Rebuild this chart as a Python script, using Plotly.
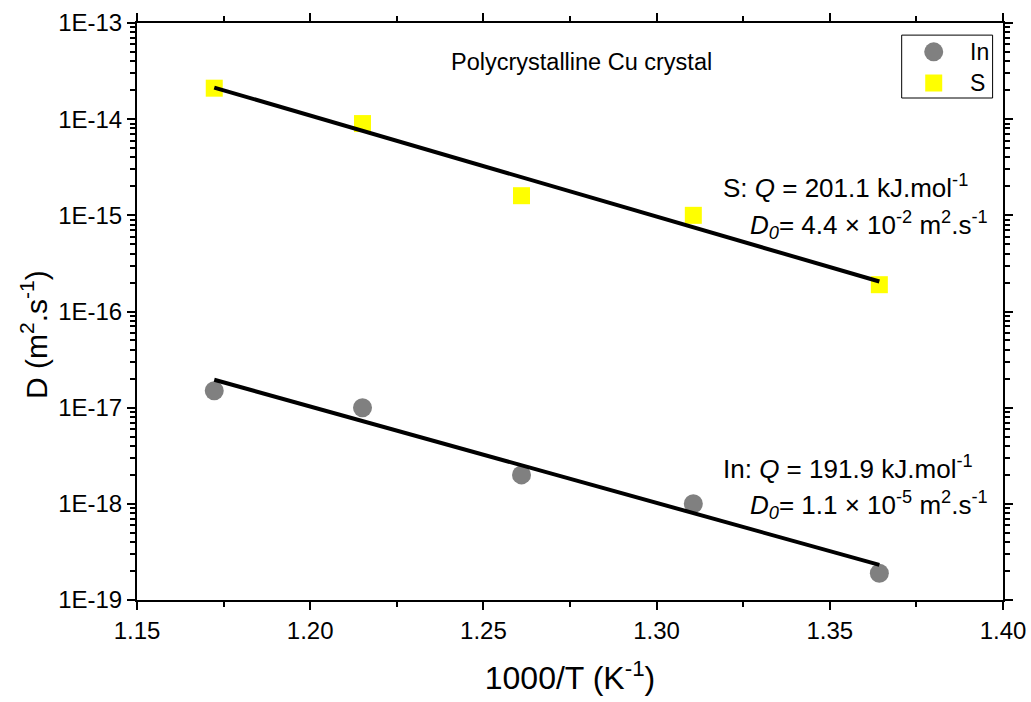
import numpy as np
import plotly.graph_objects as go

# Diffusion in polycrystalline Cu: inverse temperature (1000/T, K^-1)
inv_T = [1.1723, 1.2151, 1.2610, 1.3106, 1.3643]

# Measured diffusion coefficients (m^2/s)
D_In = [1.5e-17, 1.0e-17, 2.0e-18, 1.0e-18, 1.9e-19]
D_S = [2.1e-14, 9.0e-15, 1.6e-15, 1.0e-15, 1.9e-16]

# Arrhenius fit parameters: Q in kJ/mol, D0 in m^2/s
Q_In, D0_In = 191.9, 1.1e-5
Q_S, D0_S = 201.1, 4.4e-2
R = 8.314

y_ticks = [1e-19, 1e-18, 1e-17, 1e-16, 1e-15, 1e-14, 1e-13]
y_ticktext = ["1E-19", "1E-18", "1E-17", "1E-16", "1E-15", "1E-14", "1E-13"]

series_names = ["In", "S"]
series_colors = ["#808080", "#FFFF00"]
series_symbols = ["circle", "square"]
series_sizes = [19, 17]


def arrhenius(x, Q, D0):
    x = np.asarray(x)
    return D0 * np.exp(-Q * x / R)


fit_x = [inv_T[0], inv_T[-1]]
font = "Liberation Sans, Arial, sans-serif"

fig = go.Figure()
for name, ys, col, sym, sz in zip(series_names, [D_In, D_S], series_colors,
                                  series_symbols, series_sizes):
    fig.add_trace(go.Scatter(
        x=inv_T, y=ys, mode="markers", name=name, showlegend=False,
        marker=dict(symbol=sym, size=sz, color=col, line=dict(width=0)),
    ))

# Fitted Arrhenius lines, drawn over the markers
for Q, D0 in [(Q_S, D0_S), (Q_In, D0_In)]:
    fig.add_trace(go.Scatter(
        x=fit_x, y=arrhenius(fit_x, Q, D0), mode="lines", showlegend=False,
        line=dict(color="black", width=4),
    ))

# Legend box drawn on an overlay axis spanning the whole plot area
legend_x_sym = 0.920
legend_x_text = 0.960
legend_y = [0.950, 0.896]
for name, col, sym, sz, ly in zip(series_names, series_colors, series_symbols,
                                  series_sizes, legend_y):
    fig.add_trace(go.Scatter(
        x=[legend_x_sym], y=[ly], xaxis="x2", yaxis="y2", mode="markers",
        showlegend=False, hoverinfo="skip",
        marker=dict(symbol=sym, size=sz, color=col, line=dict(width=0)),
    ))
    fig.add_annotation(
        text=name, x=legend_x_text, y=ly, xref="paper", yref="paper",
        xanchor="left", yanchor="middle", showarrow=False,
        font=dict(family=font, size=23, color="black"),
    )
fig.add_shape(type="rect", xref="paper", yref="paper",
              x0=0.883, x1=0.988, y0=0.870, y1=0.979,
              line=dict(color="black", width=1), fillcolor="rgba(0,0,0,0)")

minor_y = [m * 10.0 ** e for e in range(-19, -13) for m in range(2, 10)]

fig.update_layout(
    width=1031, height=702,
    margin=dict(l=137, r=28, t=23, b=102, autoexpand=False),
    paper_bgcolor="white", plot_bgcolor="white",
    font=dict(family=font, size=23, color="black"),
    showlegend=False,
    xaxis=dict(
        range=[1.15, 1.40], dtick=0.05, tick0=1.15, tickformat=".2f",
        showgrid=False, zeroline=False, automargin=False,
        showline=True, linecolor="black", linewidth=2, mirror="ticks",
        ticks="outside", ticklen=8, tickwidth=2, tickcolor="black",
        minor=dict(dtick=0.025, tick0=1.15, ticks="outside", ticklen=5,
                   tickwidth=2, tickcolor="black"),
        tickfont=dict(size=24),
        title=dict(text="1000/T (K<sup>-1</sup>)", font=dict(size=32), standoff=24),
    ),
    yaxis=dict(
        type="log", range=[-19, -13], automargin=False,
        tickmode="array", tickvals=y_ticks, ticktext=y_ticktext,
        showgrid=False, zeroline=False,
        showline=True, linecolor="black", linewidth=2, mirror="ticks",
        ticks="outside", ticklen=8, tickwidth=2, tickcolor="black",
        minor=dict(tickmode="array", tickvals=minor_y, ticks="outside",
                   ticklen=5, tickwidth=2, tickcolor="black"),
        tickfont=dict(size=24),
    ),
    xaxis2=dict(domain=[0, 1], range=[0, 1], overlaying="x", visible=False,
                fixedrange=True),
    yaxis2=dict(domain=[0, 1], range=[0, 1], overlaying="y", visible=False,
                fixedrange=True),
)

# Vertical axis title
fig.add_annotation(
    text="D (m<sup>2</sup>.s<sup>-1</sup>)", x=-0.119, y=0.461,
    xref="paper", yref="paper", xanchor="center", yanchor="middle",
    textangle=-90, showarrow=False,
    font=dict(family=font, size=30, color="black"),
)

annotations = [
    dict(text="Polycrystalline Cu crystal", x=0.513, y=0.932, size=23.5, anchor="center"),
    dict(text="S: <i>Q</i> = 201.1 kJ.mol<sup>-1</sup>", x=0.962, y=0.716, size=26, anchor="right"),
    dict(text="<i>D<sub>0</sub></i>= 4.4 × 10<sup>-2</sup> m<sup>2</sup>.s<sup>-1</sup>",
         x=0.985, y=0.650, size=26, anchor="right"),
    dict(text="In: <i>Q</i> = 191.9 kJ.mol<sup>-1</sup>", x=0.968, y=0.230, size=26, anchor="right"),
    dict(text="<i>D<sub>0</sub></i>= 1.1 × 10<sup>-5</sup> m<sup>2</sup>.s<sup>-1</sup>",
         x=0.985, y=0.165, size=26, anchor="right"),
]
for a in annotations:
    fig.add_annotation(
        text=a["text"], x=a["x"], y=a["y"], xref="paper", yref="paper",
        xanchor=a["anchor"], yanchor="middle", showarrow=False,
        font=dict(family=font, size=a["size"], color="black"),
    )

fig.write_html("out.html")
